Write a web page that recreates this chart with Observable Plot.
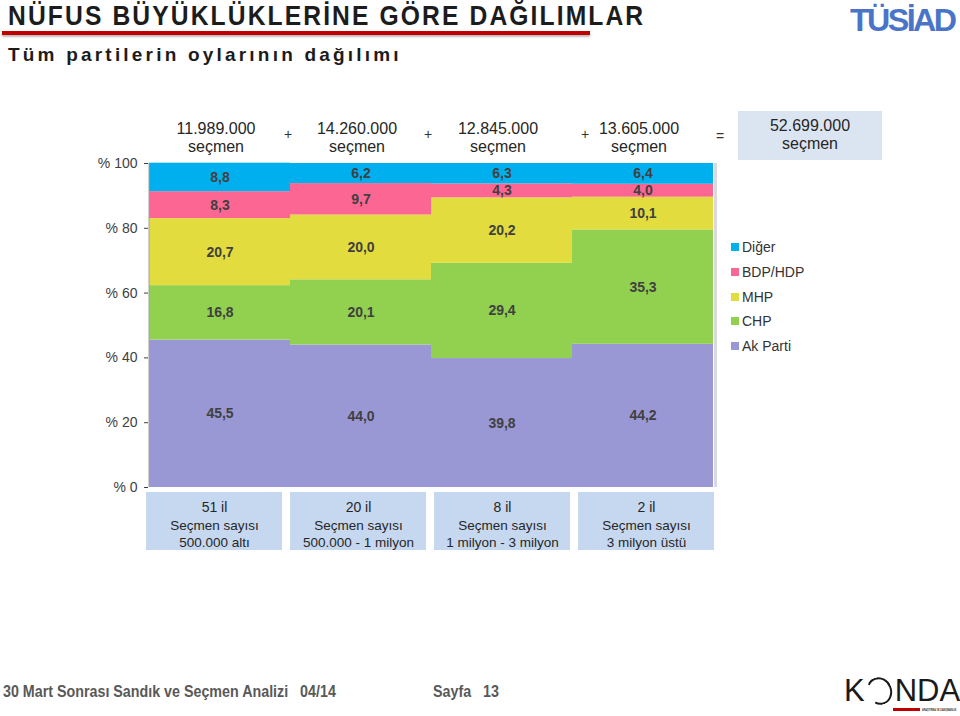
<!DOCTYPE html>
<html>
<head>
<meta charset="utf-8">
<script src="https://cdn.jsdelivr.net/npm/d3@7"></script>
<script src="https://cdn.jsdelivr.net/npm/@observablehq/plot@0.6"></script>
<style>
  html, body { margin: 0; padding: 0; background: #fff; }
  #page { position: relative; width: 960px; height: 716px; overflow: hidden; font-family: "Liberation Sans", Arial, sans-serif; }
  .abs { position: absolute; white-space: nowrap; }
  #title { left: 8px; top: 0px; font-family: "Liberation Sans", Arial, sans-serif; font-weight: bold; font-size: 28px; letter-spacing: 2.4px; color: #1c1c1c; transform: scaleX(0.88); transform-origin: left; }
  #redline { left: 2px; top: 31px; width: 588px; height: 4px; background: #c00000; box-shadow: 0 2px 2px #bbb; }
  #subtitle { left: 8px; top: 44px; font-family: "Liberation Sans", Arial, sans-serif; font-weight: bold; font-size: 19px; letter-spacing: 3.2px; color: #1c1c1c; }
  #tusiad { left: 850px; top: 3px; font-family: "Liberation Sans", Arial, sans-serif; font-weight: 900; font-size: 31px; letter-spacing: -2.5px; color: #4a74c8; transform: scaleX(1.04); transform-origin: left; }
  #total { left: 738px; top: 111px; width: 144px; height: 49px; background: #dbe5f1; text-align: center; font-size: 16px; line-height: 18px; color: #262626; padding-top: 6px; box-sizing: border-box; }
  #legend { left: 731px; top: 235px; font-size: 14px; color: #333; }
  #legend div { height: 24.7px; display: flex; align-items: center; }
  #legend span.sw { display: inline-block; width: 8px; height: 8px; margin-right: 3px; }
  .foot { top: 682px; font-family: "Liberation Sans", Arial, sans-serif; font-weight: bold; font-size: 17px; color: #595959; white-space: pre; transform: scaleX(0.84); transform-origin: left; }
  #footer1 { left: 3px; }
  #footer2 { left: 433px; }
  #konda { left: 844px; top: 674px; font-size: 31px; line-height: 34px; color: #1a1a1a; font-family: "Liberation Sans", Arial, sans-serif; display: flex; align-items: center; }
  #konda .ring { display: inline-block; width: 21px; height: 24px; border: 2.5px solid #1a1a1a; border-left-color: transparent; border-radius: 50%; margin: 0 3px 0 2px; transform: rotate(-20deg); }
  #kondabar { left: 893px; top: 708px; width: 27px; height: 3px; background: #c00000; }
  #kondasub { left: 922px; top: 707px; font-size: 4px; line-height: 5px; font-weight: bold; color: #333; transform: scaleX(0.58); transform-origin: left; }
</style>
</head>
<body>
<div id="page">
  <div id="title" class="abs">NÜFUS BÜYÜKLÜKLERİNE GÖRE DAĞILIMLAR</div>
  <div id="redline" class="abs"></div>
  <div id="subtitle" class="abs">Tüm partilerin oylarının dağılımı</div>
  <div id="tusiad" class="abs">TÜSİAD</div>
  <div id="chart" class="abs" style="left:0;top:100px;"></div>
  <div id="cats" class="abs" style="left:0;top:492px;"></div>
  <div id="total" class="abs"></div>
  <div id="legend" class="abs"></div>
  <div id="footer1" class="abs foot">30 Mart Sonrası Sandık ve Seçmen Analizi   04/14</div>
  <div id="footer2" class="abs foot">Sayfa   13</div>
  <div id="konda" class="abs"><span>K</span><span class="ring"></span><span>NDA</span></div>
  <div id="kondabar" class="abs"></div>
  <div id="kondasub" class="abs">ARAŞTIRMA VE DANIŞMANLIK</div>
</div>
<script>
// ---- data ----
const categories = ["51 il", "20 il", "8 il", "2 il"];
const categoryRanges = ["500.000 altı", "500.000 - 1 milyon", "1 milyon - 3 milyon", "3 milyon üstü"];
const voters = ["11.989.000", "14.260.000", "12.845.000", "13.605.000"];
const totalVoters = "52.699.000";
const parties = ["Ak Parti", "CHP", "MHP", "BDP/HDP", "Diğer"];
const akParti = [45.5, 44.0, 39.8, 44.2];
const chp     = [16.8, 20.1, 29.4, 35.3];
const mhp     = [20.7, 20.0, 20.2, 10.1];
const bdpHdp  = [8.3, 9.7, 4.3, 4.0];
const diger   = [8.8, 6.2, 6.3, 6.4];
const yTicks = [0, 20, 40, 60, 80, 100];
const signs = ["+", "+", "+", "="];

const colors = ["#9a98d4", "#92d050", "#e3dc3e", "#fb6693", "#00b0ee"];

// ---- build table ----
const seriesValues = [akParti, chp, mhp, bdpHdp, diger];
const rows = [];
categories.forEach((c, i) => {
  parties.forEach((p, j) => rows.push({cat: c, party: p, value: seriesValues[j][i]}));
});
const catRows = categories.map((c, i) => ({cat: c, voters: voters[i], range: categoryRanges[i], sign: signs[i]}));
const fmt = v => v.toFixed(1).replace(".", ",");

const font = "'Liberation Sans', Arial, sans-serif";
const signDx = [68, 67, 83, 77];

const chart = Plot.plot({
  width: 960,
  height: 400,
  marginTop: 63,
  marginBottom: 13,
  marginLeft: 148,
  marginRight: 246,
  style: {fontFamily: font, fontSize: "14px", color: "#404040", background: "transparent", overflow: "visible"},
  x: {domain: categories, padding: 0, axis: null},
  y: {domain: [0, 100], ticks: yTicks, tickFormat: d => "% " + d, tickSize: 4, tickPadding: 7, label: null},
  color: {domain: parties, range: colors},
  marks: [
    Plot.barY(rows, Plot.stackY({x: "cat", y: "value", fill: "party", z: "party"})),
    Plot.text(rows, Plot.stackY({x: "cat", y: "value", z: "party", text: d => fmt(d.value), fill: "#404040", fontWeight: "bold", fontSize: 14})),
    Plot.ruleX([categories[0]], {dx: -71, y1: 0, y2: 100, stroke: "#a0a0a0", strokeWidth: 1}),
    Plot.ruleX([categories[3]], {dx: 72.5, y1: 0, y2: 100, stroke: "#d9d9e0", strokeWidth: 3}),
    Plot.text(catRows, {x: "cat", text: d => d.voters + "\nseçmen", frameAnchor: "top", dy: -42, dx: -4, lineHeight: 1.1, fontSize: 16, fill: "#262626"}),
    ...catRows.map((d, i) => Plot.text([d], {x: "cat", text: "sign", frameAnchor: "top", dy: i === 3 ? -32 : -34, dx: signDx[i], fontSize: 14, fill: "#333"}))
  ]
});
document.getElementById("chart").appendChild(chart);

const cats = Plot.plot({
  width: 960,
  height: 58,
  marginTop: 0,
  marginBottom: 0,
  marginLeft: 142,
  marginRight: 242,
  style: {fontFamily: font, fontSize: "13px", background: "transparent", overflow: "visible"},
  x: {domain: categories, padding: 0, axis: null},
  y: {axis: null, domain: [0, 1]},
  marks: [
    Plot.barY(catRows, {x: "cat", y: 1, fill: "#c6d8ef", insetLeft: 4, insetRight: 4}),
    Plot.text(catRows, {x: "cat", text: "cat", frameAnchor: "top", dy: 10, fontSize: 14, fill: "#262626", fontWeight: 500}),
    Plot.text(catRows, {x: "cat", text: d => "Seçmen sayısı\n" + d.range, frameAnchor: "top", dy: 25, lineHeight: 1.28, fontSize: 13.5, fill: "#262626"})
  ]
});
document.getElementById("cats").appendChild(cats);

document.getElementById("total").innerHTML = totalVoters + "<br>seçmen";

const legend = document.getElementById("legend");
parties.slice().reverse().forEach(p => {
  const row = document.createElement("div");
  const sw = document.createElement("span");
  sw.className = "sw";
  sw.style.background = colors[parties.indexOf(p)];
  row.appendChild(sw);
  row.appendChild(document.createTextNode(p));
  legend.appendChild(row);
});
</script>
</body>
</html>
